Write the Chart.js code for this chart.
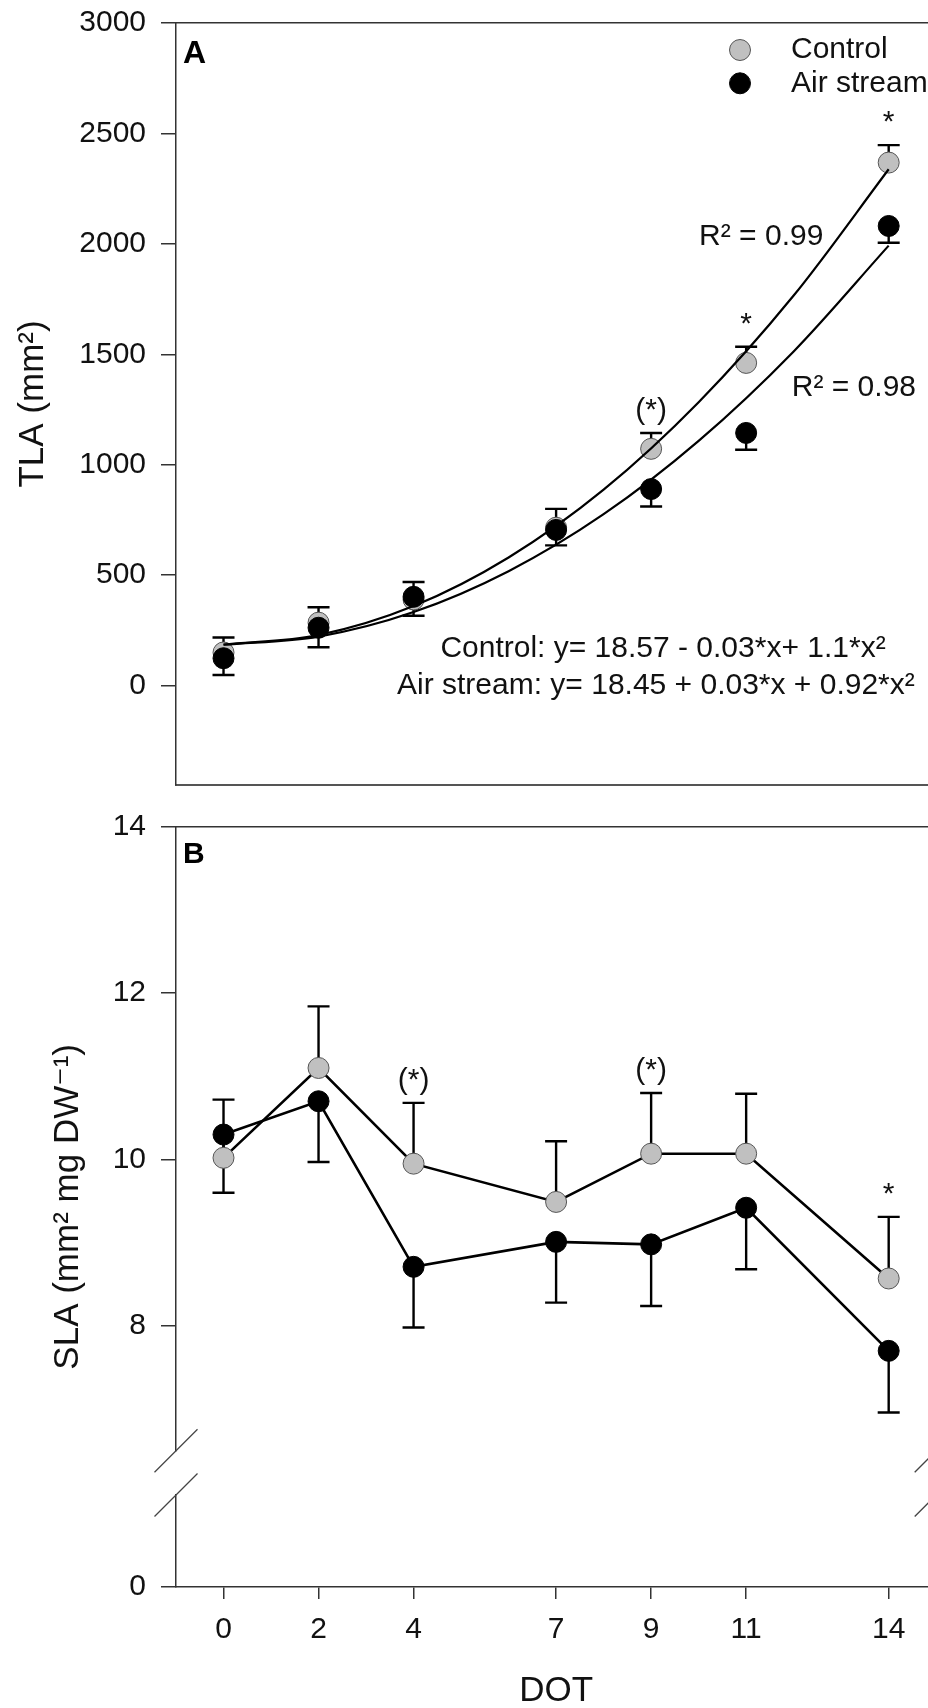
<!DOCTYPE html>
<html lang="en">
<head>
  <meta charset="UTF-8">
  <title>TLA and SLA over days of treatment</title>
  <script src="https://cdn.jsdelivr.net/npm/chart.js"></script>
  <style>
    html, body {
      margin: 0;
      padding: 0;
      background: #fff;
      overflow: hidden;
    }
    body {
      width: 928px;
      height: 1708px;
      position: relative;
    }
    .panel {
      position: absolute;
      left: 0;
      width: 960px;
    }
    #panelA { top: 0; height: 820px; }
    #panelB { top: 800px; height: 920px; }
  </style>
</head>
<body>
  <div class="panel" id="panelA"><canvas id="chartA"></canvas></div>
  <div class="panel" id="panelB"><canvas id="chartB"></canvas></div>

  <script>
    // days of treatment and axis ticks
    const days = [0, 2, 4, 7, 9, 11, 14];
    const dotTicks = [0, 2, 4, 7, 9, 11, 14];
    const tlaTicks = [0, 500, 1000, 1500, 2000, 2500, 3000];
    const slaTicks = [8, 10, 12, 14];

    // panel A: total leaf area (mm2)
    const tlaControl = [150, 285, 390, 715, 1072, 1461, 2368];
    const tlaControlErr = [68, 70, 79, 85, 72, 73, 79];
    const tlaAir = [124, 262, 402, 705, 890, 1144, 2081];
    const tlaAirErr = [76, 88, 86, 70, 79, 76, 76];
    const tlaSig = ['', '', '', '', '(*)', '*', '*'];

    // fitted curves
    const fitDays = [0, 2, 4, 6, 8, 10, 12, 14];
    const fitControl = [186, 229, 360, 580, 887, 1283, 1766, 2338];
    const fitAir = [185, 222, 333, 518, 776, 1108, 1513, 1992];

    // panel B: specific leaf area (mm2 mg DW-1)
    const slaControl = [10.02, 11.10, 9.95, 9.49, 10.07, 10.07, 8.57];
    const slaControlErr = [0.70, 0.74, 0.73, 0.73, 0.73, 0.72, 0.74];
    const slaAir = [10.30, 10.70, 8.71, 9.01, 8.98, 9.42, 7.70];
    const slaAirErr = [0.70, 0.73, 0.73, 0.73, 0.74, 0.74, 0.74];
    const slaSig = ['', '', '(*)', '', '(*)', '', '*'];

    const FONT = "'Liberation Sans', Arial, 'DejaVu Sans', sans-serif";
    Chart.defaults.font.family = FONT;
    Chart.defaults.color = '#111';

    const pts = (xs, ys) => xs.map((x, i) => ({ x: x, y: ys[i] }));
    const plain = v => String(v);
    // fixed axis width, and no extra room reserved for the end labels
    const fixWidth = w => s => { s.width = w; s.paddingTop = 0; s.paddingBottom = 0; };

    // error bars (one direction per series) and significance marks
    const errorBars = {
      id: 'errorBars',
      beforeDatasetsDraw(chart) {
        const ctx = chart.ctx;
        const xs = chart.scales.x, ys = chart.scales.y;
        ctx.save();
        ctx.strokeStyle = '#000';
        ctx.lineWidth = 2.4;
        chart.data.datasets.forEach(ds => {
          if (!ds.errors) return;
          ds.data.forEach((p, i) => {
            const px = xs.getPixelForValue(p.x);
            const py = ys.getPixelForValue(p.y);
            const pe = ys.getPixelForValue(p.y + ds.errDir * ds.errors[i]);
            ctx.beginPath();
            ctx.moveTo(px, py);
            ctx.lineTo(px, pe);
            ctx.moveTo(px - 11, pe);
            ctx.lineTo(px + 11, pe);
            ctx.stroke();
          });
        });
        ctx.restore();
      },
      afterDatasetsDraw(chart) {
        const ctx = chart.ctx;
        const xs = chart.scales.x, ys = chart.scales.y;
        ctx.save();
        ctx.fillStyle = '#111';
        ctx.font = '30px ' + FONT;
        ctx.textAlign = 'center';
        ctx.textBaseline = 'alphabetic';
        chart.data.datasets.forEach(ds => {
          if (!ds.sig) return;
          ds.data.forEach((p, i) => {
            if (!ds.sig[i]) return;
            const top = ys.getPixelForValue(p.y + ds.errors[i]);
            ctx.fillText(ds.sig[i], xs.getPixelForValue(p.x), top - 14);
          });
        });
        ctx.restore();
      }
    };

    // panel letter, free notes and the legend
    function decorations(letter, letterSize, letterDy, notes, withLegend) {
      return {
        id: 'decor' + letter,
        afterDraw(chart) {
          const { ctx, chartArea } = chart;
          const xs = chart.scales.x, ys = chart.scales.y;
          ctx.save();
          ctx.fillStyle = '#000';
          ctx.textBaseline = 'alphabetic';
          ctx.textAlign = 'left';
          ctx.font = 'bold ' + letterSize + 'px ' + FONT;
          ctx.fillText(letter, chartArea.left + 7, chartArea.top + letterDy);

          ctx.fillStyle = '#111';
          ctx.font = '30px ' + FONT;
          notes.forEach(n => {
            ctx.textAlign = n.align;
            ctx.fillText(n.text, xs.getPixelForValue(n.x), ys.getPixelForValue(n.y));
          });

          if (withLegend) {
            const items = chart.data.datasets
              .filter(d => d.legendOrder)
              .sort((a, b) => a.legendOrder - b.legendOrder);
            items.forEach((d, i) => {
              const mx = chartArea.left + 564;
              const my = chartArea.top + 27 + i * 33.3;
              ctx.beginPath();
              ctx.arc(mx, my, 10.5, 0, Math.PI * 2);
              ctx.fillStyle = d.pointBackgroundColor;
              ctx.fill();
              ctx.lineWidth = 1;
              ctx.strokeStyle = d.pointBorderColor;
              ctx.stroke();
              ctx.fillStyle = '#111';
              ctx.textAlign = 'left';
              ctx.textBaseline = 'middle';
              ctx.fillText(d.label, mx + 51, my);
            });
          }
          ctx.restore();
        }
      };
    }

    // broken y axis marks for panel B
    const axisBreak = {
      id: 'axisBreak',
      afterDraw(chart) {
        const gap = chart.scales.yGap;
        const { ctx, chartArea } = chart;
        ctx.save();
        ctx.strokeStyle = '#444';
        ctx.lineWidth = 1.3;
        [chartArea.left, chartArea.right].forEach(x => {
          [gap.top, gap.bottom].forEach(y => {
            ctx.beginPath();
            ctx.moveTo(x - 21.5, y + 21.5);
            ctx.lineTo(x + 21.5, y - 21.5);
            ctx.stroke();
          });
        });
        ctx.restore();
      }
    };

    const tickFont = { size: 30 };
    const titleFont = { size: 35 };
    const tickGrid = { drawOnChartArea: false, tickLength: 15, color: '#333', lineWidth: 1.5 };
    const axisBorder = { color: '#333', width: 1.5 };

    const chartA = new Chart(document.getElementById('chartA'), {
      type: 'line',
      data: {
        datasets: [
          {
            label: 'Control fit',
            data: pts(fitDays, fitControl),
            xAxisID: 'x', yAxisID: 'y',
            borderColor: '#000',
            borderWidth: 2.2,
            pointRadius: 0,
            cubicInterpolationMode: 'monotone'
          },
          {
            label: 'Air stream fit',
            data: pts(fitDays, fitAir),
            xAxisID: 'x', yAxisID: 'y',
            borderColor: '#000',
            borderWidth: 2.2,
            pointRadius: 0,
            cubicInterpolationMode: 'monotone'
          },
          {
            label: 'Air stream',
            data: pts(days, tlaAir),
            xAxisID: 'x', yAxisID: 'y',
            showLine: false,
            pointRadius: 10.5,
            pointBackgroundColor: '#000',
            pointBorderColor: '#000',
            pointBorderWidth: 1,
            errors: tlaAirErr,
            errDir: -1,
            legendOrder: 2
          },
          {
            label: 'Control',
            data: pts(days, tlaControl),
            xAxisID: 'x', yAxisID: 'y',
            showLine: false,
            pointRadius: 10.5,
            pointBackgroundColor: '#c0c0c0',
            pointBorderColor: '#555',
            pointBorderWidth: 1,
            errors: tlaControlErr,
            errDir: 1,
            sig: tlaSig,
            legendOrder: 1
          }
        ]
      },
      options: {
        responsive: true,
        maintainAspectRatio: false,
        animation: false,
        events: [],
        layout: { padding: { left: 0, top: 23, right: 23.8, bottom: 35 } },
        plugins: { legend: { display: false }, tooltip: { enabled: false } },
        scales: {
          x: {
            type: 'linear', position: 'bottom', min: -1, max: 15,
            ticks: { display: false },
            grid: { display: false },
            border: { color: '#555', width: 2 },
            afterFit: s => { s.height = 0; }
          },
          x2: {
            type: 'linear', position: 'top', min: -1, max: 15,
            ticks: { display: false },
            grid: { display: false },
            border: axisBorder,
            afterFit: s => { s.height = 0; }
          },
          y: {
            type: 'linear', position: 'left', min: -450, max: 3000,
            afterBuildTicks: s => { s.ticks = tlaTicks.map(v => ({ value: v })); },
            ticks: { padding: 15, font: tickFont, color: '#111', callback: plain },
            grid: tickGrid,
            border: axisBorder,
            title: { display: true, text: 'TLA (mm²)', font: titleFont, color: '#111', padding: { top: 12, bottom: 0 } },
            afterFit: fixWidth(176)
          }
        }
      },
      plugins: [errorBars, decorations('A', 32, 40, [
        { text: 'R² = 0.99', x: 10.01, y: 1993, align: 'left' },
        { text: 'R² = 0.98', x: 11.96, y: 1309, align: 'left' },
        { text: 'Control: y= 18.57 - 0.03*x+ 1.1*x²', x: 9.25, y: 130, align: 'center' },
        { text: 'Air stream: y= 18.45 + 0.03*x + 0.92*x²', x: 9.1, y: -38, align: 'center' }
      ], true)]
    });

    const chartB = new Chart(document.getElementById('chartB'), {
      type: 'line',
      data: {
        datasets: [
          {
            label: 'Air stream',
            data: pts(days, slaAir),
            xAxisID: 'x', yAxisID: 'y',
            borderColor: '#000',
            borderWidth: 2.6,
            tension: 0,
            pointRadius: 10.5,
            pointBackgroundColor: '#000',
            pointBorderColor: '#000',
            pointBorderWidth: 1,
            errors: slaAirErr,
            errDir: -1
          },
          {
            label: 'Control',
            data: pts(days, slaControl),
            xAxisID: 'x', yAxisID: 'y',
            borderColor: '#000',
            borderWidth: 2.6,
            tension: 0,
            pointRadius: 10.5,
            pointBackgroundColor: '#c0c0c0',
            pointBorderColor: '#555',
            pointBorderWidth: 1,
            errors: slaControlErr,
            errDir: 1,
            sig: slaSig
          }
        ]
      },
      options: {
        responsive: true,
        maintainAspectRatio: false,
        animation: false,
        events: [],
        layout: { padding: { left: 0, top: 26.7, right: 23.8, bottom: 0 } },
        plugins: { legend: { display: false }, tooltip: { enabled: false } },
        scales: {
          x: {
            type: 'linear', position: 'bottom', min: -1, max: 15,
            afterBuildTicks: s => { s.ticks = dotTicks.map(v => ({ value: v })); },
            ticks: { padding: 13, font: tickFont, color: '#111', callback: plain },
            grid: { drawOnChartArea: false, tickLength: 12, color: '#333', lineWidth: 1.5 },
            border: axisBorder,
            title: { display: true, text: 'DOT', font: titleFont, color: '#111', padding: { top: 0, bottom: 8 } },
            afterFit: s => { s.height = 133; }
          },
          x2: {
            type: 'linear', position: 'top', min: -1, max: 15,
            ticks: { display: false },
            grid: { display: false },
            border: axisBorder,
            afterFit: s => { s.height = 0; }
          },
          yTitle: {
            type: 'linear', position: 'left', weight: 1, min: 0, max: 1,
            ticks: { display: false },
            grid: { display: false },
            border: { display: false },
            title: { display: true, text: 'SLA (mm² mg DW⁻¹)', font: titleFont, color: '#111', padding: { top: 47, bottom: 0 } },
            afterFit: fixWidth(90)
          },
          y: {
            type: 'linear', position: 'left', stack: 'sla', stackWeight: 624, weight: 0.3,
            min: 6.5, max: 14,
            afterBuildTicks: s => { s.ticks = slaTicks.map(v => ({ value: v })); },
            ticks: { padding: 15, font: tickFont, color: '#111', callback: plain },
            grid: tickGrid,
            border: axisBorder,
            afterFit: fixWidth(86)
          },
          yGap: {
            type: 'linear', position: 'left', stack: 'sla', stackWeight: 44.3, weight: 0.2,
            min: 0, max: 1,
            ticks: { display: false },
            grid: { display: false },
            border: { display: false },
            afterFit: fixWidth(86)
          },
          y0: {
            type: 'linear', position: 'left', stack: 'sla', stackWeight: 92, weight: 0.1,
            min: 0, max: 1,
            afterBuildTicks: s => { s.ticks = [{ value: 0 }]; },
            ticks: { padding: 15, font: tickFont, color: '#111', callback: plain },
            grid: tickGrid,
            border: axisBorder,
            afterFit: fixWidth(86)
          }
        }
      },
      plugins: [errorBars, axisBreak, decorations('B', 30, 36.6, [], false)]
    });
  </script>
</body>
</html>
